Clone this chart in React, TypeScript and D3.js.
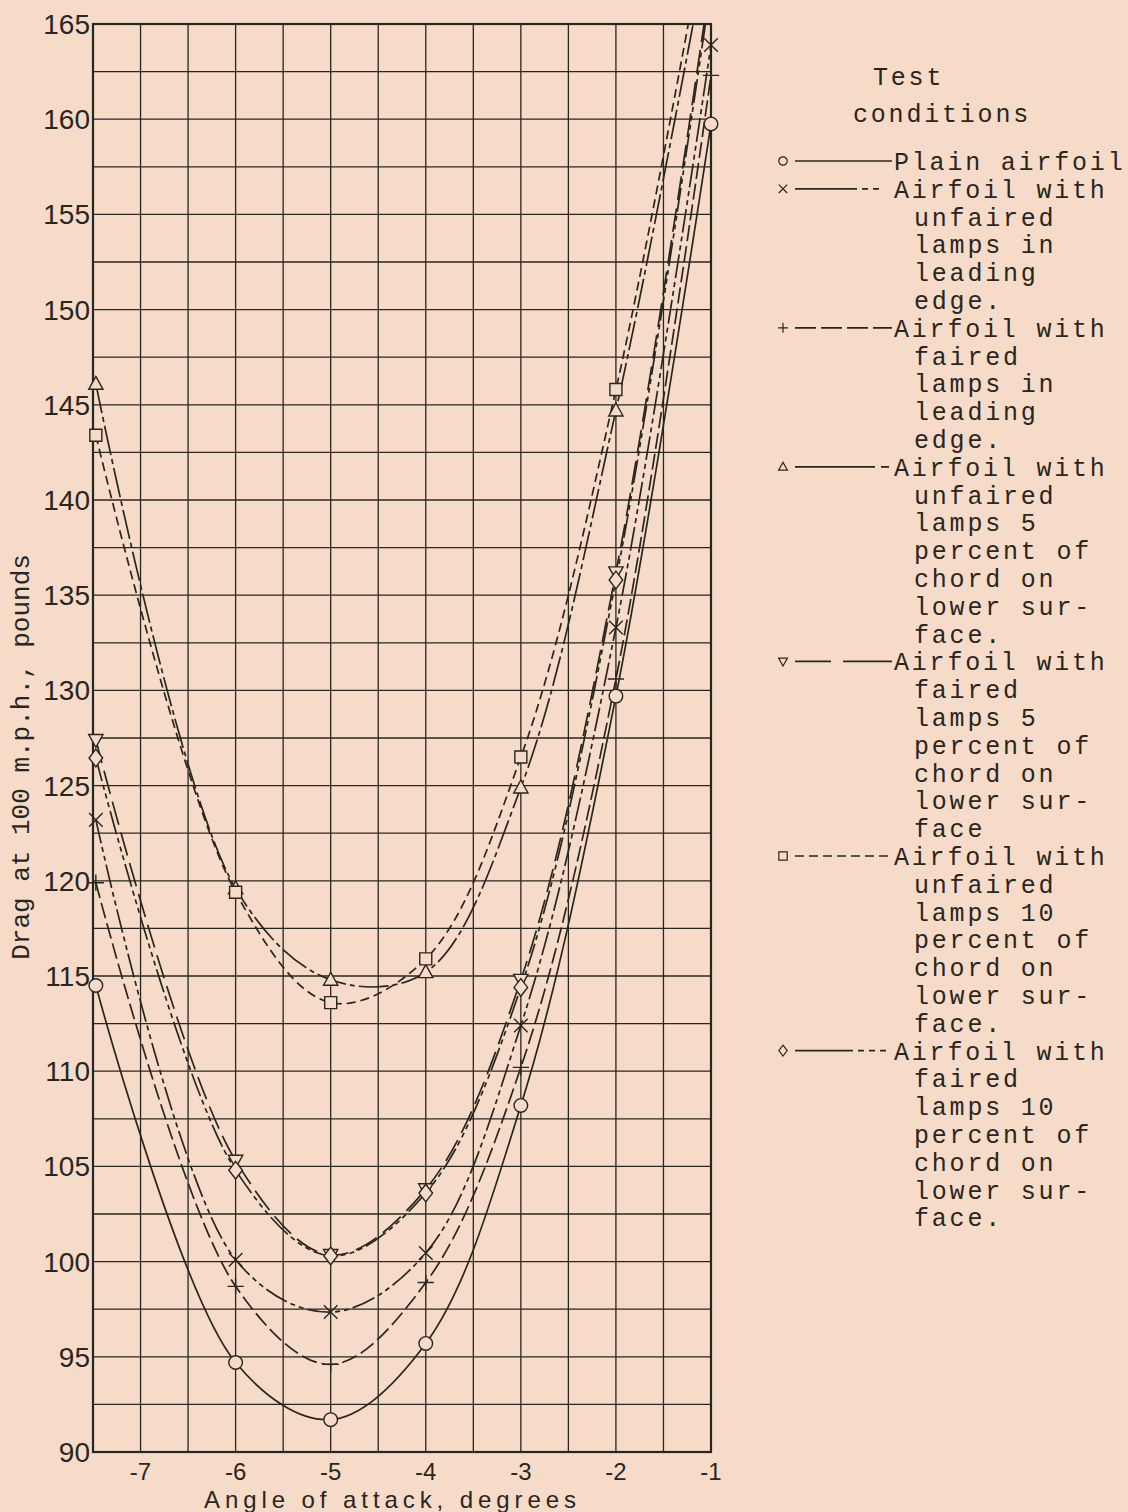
import React from 'react';
import * as d3 from 'd3';

// angle of attack, degrees (first column sits on the left frame)
const angles = [-7.47, -6, -5, -4, -3, -2, -1];

// drag at 100 m.p.h., pounds (values > 165 run off the top)
const plainAirfoil = [114.5, 94.7, 91.7, 95.7, 108.2, 129.7, 159.75];
const unfairedLeading = [123.2, 100.1, 97.35, 100.45, 112.4, 133.3, 163.9];
const fairedLeading = [119.9, 98.7, 94.6, 98.9, 110.2, 130.6, 162.3];
const unfaired5 = [146.1, 119.6, 114.8, 115.2, 124.9, 144.7, 170];
const faired5 = [127.4, 105.3, 100.35, 103.8, 114.8, 136.2, 167.5];
const unfaired10 = [143.4, 119.4, 113.6, 115.9, 126.5, 145.8, 171.5];
const faired10 = [126.45, 104.8, 100.3, 103.6, 114.4, 135.8, 167];

const xTicks = [-7, -6, -5, -4, -3, -2, -1];
const yTicks = [90, 95, 100, 105, 110, 115, 120, 125, 130, 135, 140, 145, 150, 155, 160, 165];

const legendTitle = ['Test', 'conditions'];
const plainText = ['Plain airfoil'];
const unfairedLeadingText = ['Airfoil with', 'unfaired', 'lamps in', 'leading', 'edge.'];
const fairedLeadingText = ['Airfoil with', 'faired', 'lamps in', 'leading', 'edge.'];
const unfaired5Text = ['Airfoil with', 'unfaired', 'lamps 5', 'percent of', 'chord on', 'lower sur-', 'face.'];
const faired5Text = ['Airfoil with', 'faired', 'lamps 5', 'percent of', 'chord on', 'lower sur-', 'face'];
const unfaired10Text = ['Airfoil with', 'unfaired', 'lamps 10', 'percent of', 'chord on', 'lower sur-', 'face.'];
const faired10Text = ['Airfoil with', 'faired', 'lamps 10', 'percent of', 'chord on', 'lower sur-', 'face.'];

const series = [
  { key: 'plain', marker: 'circle', dash: 'none', legendDash: 'none', values: plainAirfoil, text: plainText },
  { key: 'unfLE', marker: 'x', dash: '24,4,5,4,5,4', legendDash: '62,5,6,5,6,40', values: unfairedLeading, text: unfairedLeadingText },
  { key: 'fLE', marker: 'plus', dash: '16,5', legendDash: '21,5,21,5,21,5,21,40', values: fairedLeading, text: fairedLeadingText },
  { key: 'unf5', marker: 'triangle', dash: '30,4,5,4', legendDash: '80,6,8,40', values: unfaired5, text: unfaired5Text },
  { key: 'f5', marker: 'triangleDown', dash: '24,8', legendDash: '36,12,52,40', values: faired5, text: faired5Text },
  { key: 'unf10', marker: 'square', dash: '9,5', legendDash: '9,5', values: unfaired10, text: unfaired10Text },
  { key: 'f10', marker: 'diamond', dash: '24,4,5,4,5,4,5,4', legendDash: '58,5,6,5,6,5,6,40', values: faired10, text: faired10Text },
];

const INK = '#29261f';
const PAPER = '#f6dcc8';

const markerPath = (type: string, s: number) => {
  switch (type) {
    case 'circle':
      return `M${-s},0A${s},${s} 0 1,0 ${s},0A${s},${s} 0 1,0 ${-s},0Z`;
    case 'square':
      return `M${-s},${-s}H${s}V${s}H${-s}Z`;
    case 'triangle':
      return `M0,${-s * 1.1}L${s * 1.05},${s * 0.8}L${-s * 1.05},${s * 0.8}Z`;
    case 'triangleDown':
      return `M0,${s * 1.1}L${s * 1.05},${-s * 0.8}L${-s * 1.05},${-s * 0.8}Z`;
    case 'diamond':
      return `M0,${-s * 1.3}L${s},0L0,${s * 1.3}L${-s},0Z`;
    case 'x':
      return `M${-s},${-s}L${s},${s}M${s},${-s}L${-s},${s}`;
    case 'plus':
      return `M${-s * 1.2},0H${s * 1.2}M0,${-s * 1.2}V${s * 1.2}`;
    default:
      return '';
  }
};

export default function App() {
  const margin = { left: 93, right: 711, top: 24, bottom: 1452 };
  const x = d3.scaleLinear().domain([-7.5, -1]).range([margin.left, margin.right]);
  const y = d3.scaleLinear().domain([90, 165]).range([margin.bottom, margin.top]);

  const xGrid = d3.range(-7, -1, 0.5);
  const yGrid = d3.range(92.5, 165, 2.5);

  const line = d3.line<[number, number]>()
    .x(d => x(d[0]))
    .y(d => y(d[1]))
    .curve(d3.curveCatmullRom.alpha(0.5));

  // legend rows
  const rowStart = 161;
  const rowH = 27.8;
  let row = 0;
  const legendRows = series.map(s => {
    const r = row;
    row += s.text.length;
    return { ...s, row: r };
  });

  const monoFont = "'Liberation Mono', 'DejaVu Sans Mono', monospace";
  const tickFont = "'Liberation Sans Narrow', 'Liberation Sans', Arial, sans-serif";

  return (
    <div style={{ position: 'absolute', left: 0, top: 0 }}>
      <svg width={1128} height={1512} style={{ display: 'block', background: PAPER }}>
        <defs>
          <clipPath id="plotClip">
            <rect x={margin.left} y={margin.top} width={margin.right - margin.left} height={margin.bottom - margin.top} />
          </clipPath>
        </defs>
        <rect x={0} y={0} width={1128} height={1512} fill={PAPER} />

        {/* grid */}
        <g stroke={INK} strokeWidth={1.3}>
          {xGrid.map(v => (
            <line key={'gx' + v} x1={x(v)} x2={x(v)} y1={margin.top} y2={margin.bottom} />
          ))}
          {yGrid.map(v => (
            <line key={'gy' + v} x1={margin.left} x2={margin.right} y1={y(v)} y2={y(v)} />
          ))}
        </g>
        <rect x={margin.left} y={margin.top} width={margin.right - margin.left} height={margin.bottom - margin.top}
          fill="none" stroke={INK} strokeWidth={2.2} />

        {/* curves */}
        <g clipPath="url(#plotClip)" fill="none" stroke={INK} strokeWidth={1.7}>
          {series.map(s => (
            <path key={s.key} d={line(angles.map((a, i) => [a, s.values[i]]) as [number, number][]) || ''}
              strokeDasharray={s.dash} />
          ))}
        </g>

        {/* markers */}
        <g stroke={INK} strokeWidth={1.4} fill={PAPER}>
          {series.map(s => angles.map((a, i) => {
            const v = s.values[i];
            if (v > 165) return null;
            return (
              <path key={s.key + i} transform={`translate(${x(a)},${y(v)})`}
                d={markerPath(s.marker, s.marker === 'circle' ? 6.8 : s.marker === 'square' ? 6 : 6.8)}
                fill={s.marker === 'x' || s.marker === 'plus' ? 'none' : PAPER} />
            );
          }))}
        </g>

        {/* y ticks */}
        <g fontFamily={tickFont} fontSize={28} fill={INK} textAnchor="end">
          {yTicks.map(v => (
            <text key={'yt' + v} x={margin.left - 3} y={y(v)} dy="0.36em">{v}</text>
          ))}
        </g>
        {/* x ticks */}
        <g fontFamily={tickFont} fontSize={24} fill={INK} textAnchor="middle">
          {xTicks.map(v => (
            <text key={'xt' + v} x={x(v)} y={1471} dy="0.36em">{'-' + Math.abs(v)}</text>
          ))}
        </g>
        <text x={(margin.left + margin.right) / 2 - 12} y={1499} dy="0.36em" textAnchor="middle"
          fontFamily={tickFont} fontSize={24} fill={INK} textLength={372} lengthAdjust="spacing">Angle of attack, degrees</text>
        <text transform={`translate(20,${757}) rotate(-90)`} textAnchor="middle" dy="0.36em"
          fontFamily={monoFont} fontSize={26} fill={INK}>Drag at 100 m.p.h., pounds</text>

        {/* legend */}
        <g fontFamily={monoFont} fontSize={25} fill={INK} letterSpacing={2.8}>
          <text x={873} y={76} dy="0.36em">{legendTitle[0]}</text>
          <text x={853} y={113} dy="0.36em">{legendTitle[1]}</text>
          {legendRows.map(s => {
            const yy = rowStart + s.row * rowH;
            return (
              <g key={'lg' + s.key}>
                <path transform={`translate(783,${yy})`} d={markerPath(s.marker, 4.2)}
                  fill="none" stroke={INK} strokeWidth={1.2} />
                <line x1={795} x2={892} y1={yy} y2={yy} stroke={INK} strokeWidth={1.7}
                  strokeDasharray={s.legendDash} />
                {s.text.map((t, j) => (
                  <text key={j} x={j === 0 ? 894 : 914} y={yy + j * rowH} dy="0.36em">{t}</text>
                ))}
              </g>
            );
          })}
        </g>
      </svg>
    </div>
  );
}
